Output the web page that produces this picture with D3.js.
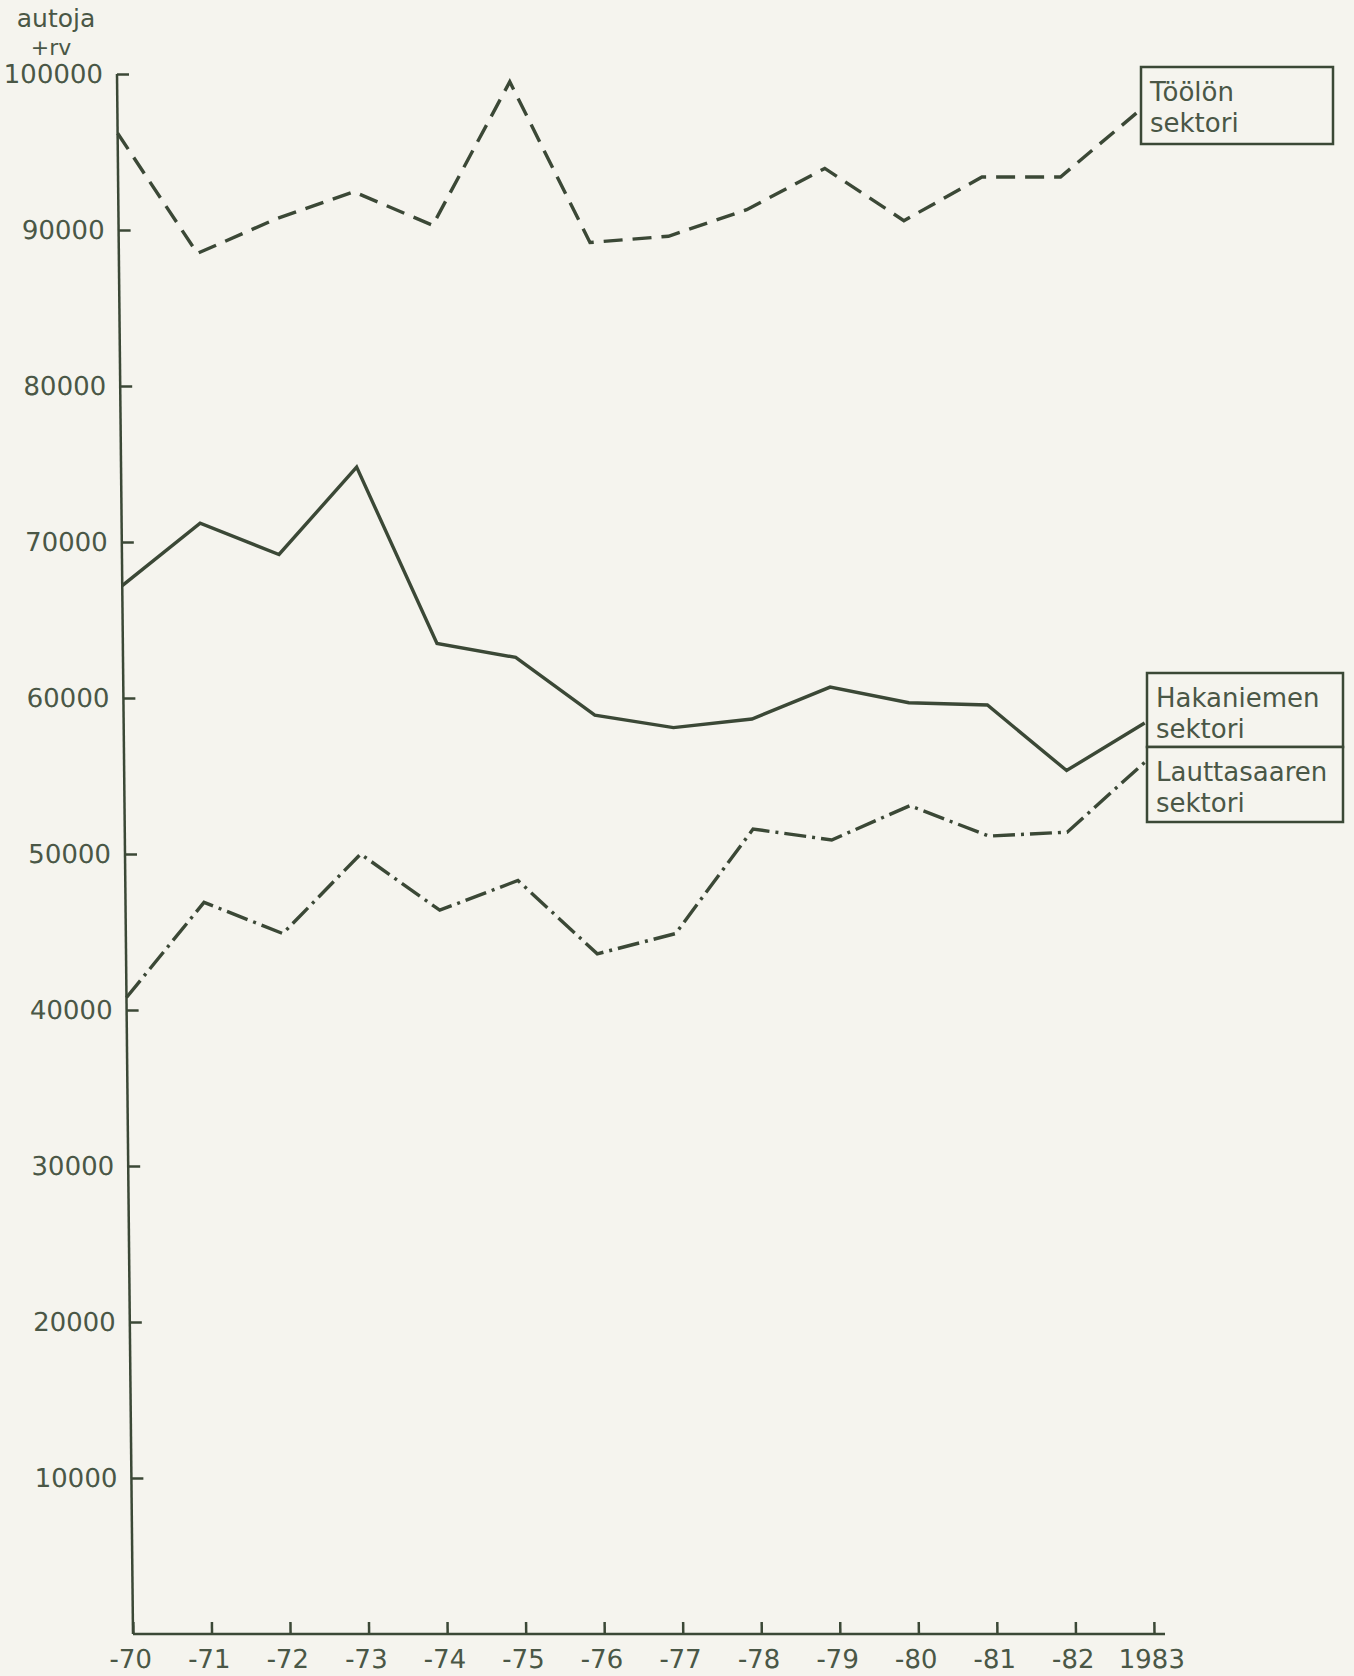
<!DOCTYPE html>
<html>
<head>
<meta charset="utf-8">
<script src="https://cdn.jsdelivr.net/npm/d3@7"></script>
<style>
  body { margin: 0; background: #f5f4ee; }
  svg { display: block; }
  text { font-family: "DejaVu Sans", sans-serif; fill: #4a5746; }
</style>
</head>
<body>
<svg id="chart" width="1354" height="1676"></svg>
<script>
// ---- data ----
const years = [1970, 1971, 1972, 1973, 1974, 1975, 1976, 1977, 1978, 1979, 1980, 1981, 1982, 1983];
const yearLabels = ["-70", "-71", "-72", "-73", "-74", "-75", "-76", "-77", "-78", "-79", "-80", "-81", "-82", "1983"];
const yTicks = [10000, 20000, 30000, 40000, 50000, 60000, 70000, 80000, 90000, 100000];
const yAxisTitle = ["autoja", "+rv"];

const tooloValues      = [96200, 88500, 90700, 92450, 90300, 99500, 89200, 89600, 91300, 93950, 90600, 93400, 93400, 97600];
const hakaniemiValues  = [67200, 71200, 69200, 74800, 63500, 62600, 58900, 58100, 58650, 60700, 59700, 59550, 55350, 58400];
const lauttasaariValues= [40800, 46900, 44900, 50000, 46400, 48300, 43600, 44900, 51600, 50900, 53100, 51150, 51400, 55900];

const seriesNames = [["Töölön", "sektori"], ["Hakaniemen", "sektori"], ["Lauttasaaren", "sektori"]];

// ---- layout ----
const ink = "#3b4836";
const textInk = "#4a5746";
const svg = d3.select("#chart");
svg.append("rect").attr("width", 1354).attr("height", 1676).attr("fill", "#f5f4ee");

const x = d3.scaleLinear().domain([1970, 1983]).range([133, 1154]);
const y = d3.scaleLinear().domain([0, 100000]).range([1634, 74]);

// slight shear of the scanned drawing
const skewDeg = Math.atan(16 / 1560) * 180 / Math.PI;
const g = svg.append("g")
  .attr("transform", `translate(0,${y(0)}) skewX(${skewDeg}) translate(0,${-y(0)})`);

// y axis
const yAxis = d3.axisLeft(y).tickValues(yTicks).tickSize(-12).tickSizeOuter(0)
  .tickPadding(14).tickFormat(d3.format("d"));
const gy = g.append("g").attr("transform", `translate(${x(1970)},0)`).call(yAxis);
gy.select(".domain").attr("d", `M0,${y(0)}V${y(100000)}`);

// x axis
const xAxis = d3.axisBottom(x).tickValues(years).tickSize(-12).tickSizeOuter(0)
  .tickFormat((d, i) => yearLabels[i]);
const gx = g.append("g").attr("transform", `translate(0,${y(0)})`).call(xAxis);
gx.select(".domain").attr("d", `M${x(1970)},0H${x(1983) + 11}`);
gx.selectAll(".tick text").attr("y", 34).attr("dy", null).attr("dx", -3);

[gx, gy].forEach(a => {
  a.selectAll(".domain, .tick line").attr("stroke", ink).attr("stroke-width", 2.5);
  a.selectAll("text").attr("font-size", 26).attr("fill", textInk)
    .attr("font-family", "DejaVu Sans, sans-serif");
});

// lines
const line = d3.line().x((d, i) => x(years[i])).y(d => y(d));
const series = [
  { values: tooloValues, dash: "19 10" },
  { values: hakaniemiValues, dash: null },
  { values: lauttasaariValues, dash: "22 6 3 6" }
];
g.selectAll("path.series").data(series).join("path")
  .attr("class", "series")
  .attr("d", d => line(d.values))
  .attr("fill", "none")
  .attr("stroke", ink)
  .attr("stroke-width", 3.4)
  .attr("stroke-linejoin", "miter")
  .attr("stroke-dasharray", d => d.dash);

// axis title
svg.append("text").attr("x", 56).attr("y", 27).attr("text-anchor", "middle")
  .attr("font-size", 25).text(yAxisTitle[0]);
svg.append("text").attr("x", 51).attr("y", 55).attr("text-anchor", "middle")
  .attr("font-size", 22).text(yAxisTitle[1]);

// legend boxes
const boxes = [
  { name: seriesNames[0], x0: 1141, y0: 67, w: 192, h: 77 },
  { name: seriesNames[1], x0: 1147, y0: 673, w: 196, h: 74 },
  { name: seriesNames[2], x0: 1147, y0: 747, w: 196, h: 75 }
];
boxes.forEach(b => {
  svg.append("rect").attr("x", b.x0).attr("y", b.y0).attr("width", b.w).attr("height", b.h)
    .attr("fill", "#f5f4ee").attr("stroke", ink).attr("stroke-width", 2.5);
  svg.append("text").attr("x", b.x0 + 9).attr("y", b.y0 + 34).attr("font-size", 26).text(b.name[0]);
  svg.append("text").attr("x", b.x0 + 9).attr("y", b.y0 + 65).attr("font-size", 26).text(b.name[1]);
});
</script>
</body>
</html>
